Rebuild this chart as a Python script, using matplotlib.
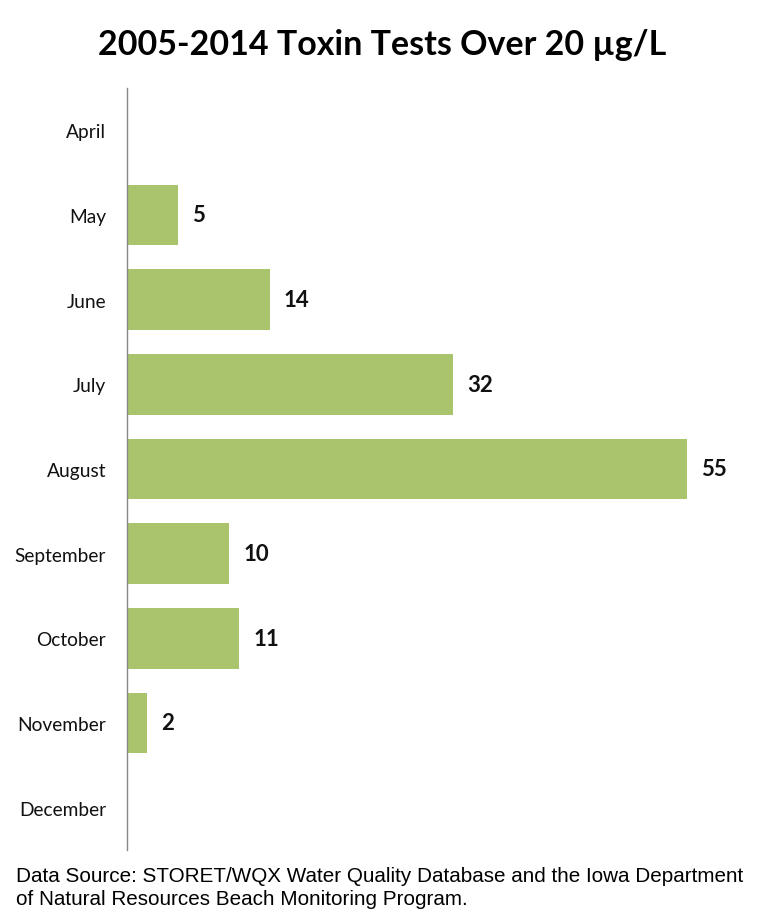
import matplotlib
matplotlib.use('Agg')
import matplotlib.pyplot as plt

months = ['April', 'May', 'June', 'July', 'August', 'September',
          'October', 'November', 'December']
counts = [0, 5, 14, 32, 55, 10, 11, 2, 0]

fig = plt.figure(figsize=(7.64, 9.2), dpi=100)
ax = fig.add_axes([127 / 764, 1 - 851 / 920, (738 - 127) / 764, (851 - 89) / 920])

ypos = list(range(len(months)))
ax.barh(ypos, counts, height=0.72, color='#AAC46E', edgecolor='none')
ax.set_ylim(len(months) - 0.5, -0.5)
ax.set_xlim(0, 60)

ax.set_yticks(ypos)
ax.set_yticklabels(months, fontsize=13.8, family='Lato', color='#111111')
ax.tick_params(axis='y', length=0, pad=15)
ax.set_xticks([])
for s in ['top', 'right', 'bottom']:
    ax.spines[s].set_visible(False)
ax.spines['left'].set_color('#888888')
ax.spines['left'].set_linewidth(1.0)

for y, v in zip(ypos, counts):
    if v > 0:
        ax.text(v + 1.4, y, str(v), va='center', ha='left', fontsize=16,
                fontweight='bold', family='Lato', color='#111111')

fig.text(0.5, 1 - 45 / 920, '2005-2014 Toxin Tests Over 20 µg/L', ha='center',
         va='center', fontsize=24.5, fontweight='bold', family='Lato')

fig.text(16 / 764, 1 - 888 / 920,
         'Data Source: STORET/WQX Water Quality Database and the Iowa Department\n'
         'of Natural Resources Beach Monitoring Program.',
         ha='left', va='center', fontsize=14.9, family='Liberation Sans',
         linespacing=1.28)

fig.savefig('out.png', dpi=100)
